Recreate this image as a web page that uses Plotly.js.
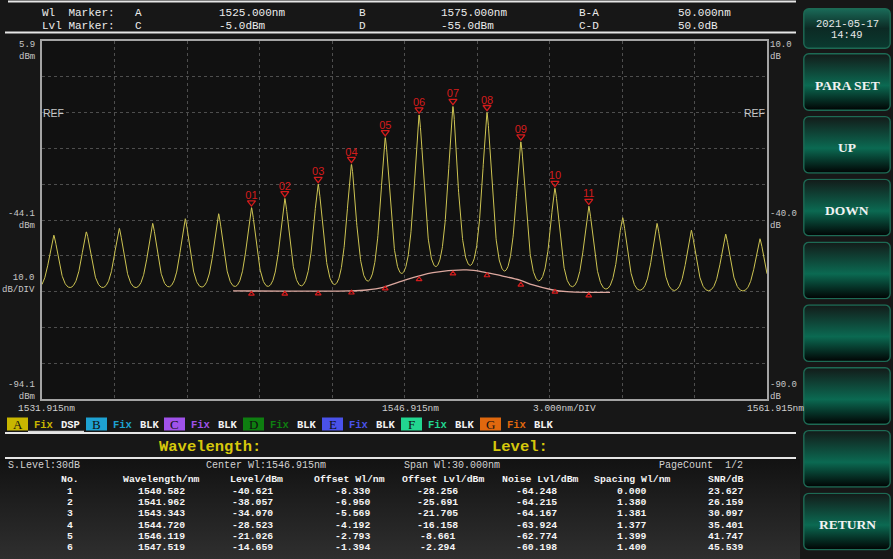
<!DOCTYPE html>
<html><head><meta charset="utf-8">
<script src="https://cdn.plot.ly/plotly-3.0.1.min.js"></script>
<style>html,body{margin:0;padding:0;background:#161616;overflow:hidden}#chart{width:893px;height:559px}</style>
</head><body><div id="chart"></div>
<script>
// ---------------- data ----------------
const xStart = 1531.915, xEnd = 1561.915;           // nm, 3 nm/div
const yTop = 5.9, yBottom = -94.1;                  // dBm, 10 dB/div
// all channel peaks of trace A
const peakWl  = [1532.40, 1533.75, 1535.11, 1536.49, 1537.84, 1539.22,
                 1540.582, 1541.962, 1543.343, 1544.720, 1546.119, 1547.519,
                 1548.92, 1550.33, 1551.73, 1553.14, 1554.54,
                 1555.94, 1557.36, 1558.78, 1560.20, 1561.62];
const peakLvl = [-48.3, -47.4, -46.4, -45.0, -43.7, -42.3,
                 -40.621, -38.057, -34.070, -28.523, -21.026, -14.659,
                 -12.3, -14.0, -22.2, -35.2, -40.2,
                 -43.4, -45.0, -46.9, -48.0, -49.3];
// trace floor level under each peak
const peakFloor = [-63.9, -63.9, -63.9, -63.9, -63.9, -63.9,
                   -63.9, -63.9, -63.9, -63.7, -62.2, -59.9,
                   -58.6, -59.1, -61.5, -63.6, -64.3,
                   -64.6, -64.6, -64.6, -64.6, -64.6];
// analysed channels 01..11
const markerLabels = ['01','02','03','04','05','06','07','08','09','10','11'];
const markerWl  = [1540.582, 1541.962, 1543.343, 1544.720, 1546.119, 1547.519, 1548.92, 1550.33, 1551.73, 1553.14, 1554.54];
const markerLvl = [-40.621, -38.057, -34.070, -28.523, -21.026, -14.659, -12.3, -14.0, -22.2, -35.2, -40.2];
const noiseLvl  = [-64.248, -64.215, -64.167, -63.924, -62.774, -60.198, -58.6, -59.1, -61.7, -63.7, -64.7];
// fitted noise curve
const noiseCurveWl  = [1539.82, 1544.66, 1545.35, 1546.03, 1546.73, 1548.09, 1549.49, 1550.25, 1550.94, 1551.69, 1552.23, 1553.06, 1553.64, 1554.47, 1555.42];
const noiseCurveLvl = [-63.9, -63.9, -63.65, -62.9, -61.3, -58.8, -58.05, -58.7, -59.7, -60.9, -62.25, -63.65, -64.1, -64.3, -64.3];
// axis labels
const leftLabels  = [['5.9','dBm'], ['-44.1','dBm'], ['10.0','dB/DIV'], ['-94.1','dBm']];
const rightLabels = [['10.0','dB'], ['-40.0','dB'], ['-90.0','dB']];
const xLabels = ['1531.915nm', '1546.915nm', '3.000nm/DIV', '1561.915nm'];
// header
const hdrRow1 = ['Wl  Marker:', 'A', '1525.000nm', 'B', '1575.000nm', 'B-A', '50.000nm'];
const hdrRow2 = ['Lvl Marker:', 'C', '-5.0dBm', 'D', '-55.0dBm', 'C-D', '50.0dB'];
// trace legend row
const trLetters = ['A','B','C','D','E','F','G'];
const trColors  = ['#c8b600','#1ea2d2','#a052ea','#0e7e10','#4a52ea','#22d690','#e0680e'];
const trState   = ['DSP','BLK','BLK','BLK','BLK','BLK','BLK'];
// table
const infoRow = ['S.Level:30dB', 'Center Wl:1546.915nm', 'Span Wl:30.000nm', 'PageCount  1/2'];
const tblHeaders = ['No.','Wavelength/nm','Level/dBm','Offset Wl/nm','Offset Lvl/dBm','Noise Lvl/dBm','Spacing Wl/nm','SNR/dB'];
const tblNo      = [1, 2, 3, 4, 5, 6];
const tblWl      = [1540.582, 1541.962, 1543.343, 1544.720, 1546.119, 1547.519];
const tblLevel   = [-40.621, -38.057, -34.070, -28.523, -21.026, -14.659];
const tblOffWl   = [-8.330, -6.950, -5.569, -4.192, -2.793, -1.394];
const tblOffLvl  = [-28.256, -25.691, -21.705, -16.158, -8.661, -2.294];
const tblNoise   = [-64.248, -64.215, -64.167, -63.924, -62.774, -60.198];
const tblSpacing = [0.000, 1.380, 1.381, 1.377, 1.399, 1.400];
const tblSnr     = [23.627, 26.159, 30.097, 35.401, 41.747, 45.539];
// side buttons
const buttonLabels = ['PARA SET','UP','DOWN','','','','','RETURN'];
const dateText = ['2021-05-17','14:49'];

// ---------------- build ----------------
const MONO = 'Liberation Mono, DejaVu Sans Mono, monospace';
const SERIF = 'Liberation Serif, DejaVu Serif, serif';
const SANS = 'Liberation Sans, Arial, sans-serif';
const PL = 42, PR = 767, PT = 41, PB = 399;
const xp = px => (px - PL) / (PR - PL);
const yp = py => (PB - py) / (PB - PT);

// spectrum line: each channel drawn as a peak over the local floor
function floorAt(x) {
  if (x <= peakWl[0]) return peakFloor[0];
  for (let i = 0; i < peakWl.length - 1; i++) {
    if (x <= peakWl[i + 1]) {
      const t = (x - peakWl[i]) / (peakWl[i + 1] - peakWl[i]);
      return peakFloor[i] + t * (peakFloor[i + 1] - peakFloor[i]);
    }
  }
  return peakFloor[peakFloor.length - 1];
}
const W = 0.29, P = 1.5;
const specX = [], specY = [];
for (let k = 0; k <= 3000; k++) {
  const x = xStart + k * (xEnd - xStart) / 3000;
  let y = floorAt(x);
  for (let i = 0; i < peakWl.length; i++) {
    const d = Math.abs(x - peakWl[i]) / W;
    y += (peakLvl[i] - peakFloor[i]) * Math.exp(-Math.pow(d, P));
  }
  specX.push(x); specY.push(y);
}

const RED = '#d41c1c';
const traces = [
  {x: specX, y: specY, type: 'scatter', mode: 'lines', line: {color: '#cdc452', width: 1}, hoverinfo: 'skip'},
  {x: noiseCurveWl, y: noiseCurveLvl, type: 'scatter', mode: 'lines', line: {color: '#dca89f', width: 1.3, shape: 'spline'}, hoverinfo: 'skip'},
  {x: markerWl, y: markerLvl.map(v => v + 1.4), type: 'scatter', mode: 'markers', cliponaxis: false,
   marker: {symbol: 'triangle-down-open', size: 7, color: RED, line: {width: 1.3, color: RED}}},
  {x: markerWl, y: markerLvl.map(v => v + 3.2), type: 'scatter', mode: 'text', text: markerLabels, cliponaxis: false,
   textposition: 'middle center', textfont: {family: 'Liberation Sans Narrow, ' + SANS, size: 11, color: RED}},
  {x: markerWl, y: noiseLvl.map(v => v - 0.5), type: 'scatter', mode: 'markers',
   marker: {symbol: 'triangle-up-open', size: 5, color: RED, line: {width: 1.2, color: RED}}}
];

const ann = [];
function T(text, x, y, o) {
  o = o || {};
  ann.push({text: text, x: xp(x), y: yp(y), xref: 'paper', yref: 'paper', showarrow: false,
    xanchor: o.xa || 'left', yanchor: 'middle', align: o.xa === 'center' ? 'center' : (o.xa || 'left'),
    font: {family: o.ff || MONO, size: o.size || 11, color: o.color || '#ececec', weight: o.weight || 'normal'}});
}
// header
const hdrX = [42, 135, 219, 359, 441, 579, 678];
hdrRow1.forEach((t, i) => T(t, hdrX[i] - 2, 13));
hdrRow2.forEach((t, i) => T(t, hdrX[i] - 2, 25.5));
// left / right axis labels (two lines each)
const leftY = [51, 220, 284, 391];
leftLabels.forEach((l, i) => T(l[0] + '<br>' + l[1], 37, leftY[i], {xa: 'right', size: 9, color: '#c8c8c8'}));
const rightY = [50.5, 220, 391];
rightLabels.forEach((l, i) => T(l[0] + '<br>' + l[1], 768, rightY[i], {size: 9, color: '#c8c8c8'}));
T('REF', 41, 112.5, {ff: SANS, size: 10.5, color: '#c8c8c8'});
T('REF', 767, 112.5, {ff: SANS, size: 10.5, color: '#c8c8c8', xa: 'right'});
// x labels
const xLabX = [46, 410, 564, 775];
xLabels.forEach((t, i) => T(t, xLabX[i], 408, {xa: 'center', size: 9.5, color: '#cfcfcf'}));
// legend row
const boxX = [7, 86, 164, 243, 322, 401, 480];
const shapes = [];
boxX.forEach((bx, i) => {
  shapes.push({type: 'rect', xref: 'paper', yref: 'paper', x0: xp(bx), x1: xp(bx + 21), y0: yp(430.5), y1: yp(417.5), fillcolor: trColors[i], line: {width: 0}});
  T(trLetters[i], bx + 10.5, 424.5, {xa: 'center', ff: SERIF, size: 13, color: '#101010'});
  T('Fix', bx + 25, 425, {size: 10.5, color: trColors[i], weight: 'bold'});
  T(trState[i], bx + 52, 425, {size: 10.5, color: '#f2f2f2', weight: 'bold'});
});
shapes.push({type: 'line', xref: 'paper', yref: 'paper', x0: xp(28), x1: xp(84), y0: yp(431.5), y1: yp(431.5), line: {color: '#d8d8d8', width: 1.5}});
// separator lines
[[1.5, 8], [32.5, 5], [433, 5], [458, 5]].forEach(l => shapes.push({type: 'line', xref: 'paper', yref: 'paper', x0: xp(l[1]), x1: xp(796), y0: yp(l[0]), y1: yp(l[0]), line: {color: '#e6e6e6', width: 2}}));
// titles
T('Wavelength:', 210, 446.5, {xa: 'center', size: 15.5, color: '#d6c80c', weight: 'bold'});
T('Level:', 520, 446.5, {xa: 'center', size: 15.5, color: '#d6c80c', weight: 'bold'});
// info row
const infoX = [6, 204, 402, 657];
infoRow.forEach((t, i) => T(t, infoX[i], 466, {size: 10, color: '#d2d2d2'}));
// table
const hdrCx = [70, 161, 256, 349, 443, 540, 632, 725];
const valCx = [70, 161, 252, 352, 437, 536, 632, 725];
tblHeaders.forEach((t, i) => T(t, hdrCx[i], 479.8, {xa: 'center', size: 9.8, color: '#f4f4f4', weight: 'bold'}));
const rowY = [491.3, 502.6, 513.9, 525.2, 536.5, 547.8];
const cols = [tblNo.map(String), tblWl.map(v => v.toFixed(3)), tblLevel.map(v => v.toFixed(3)), tblOffWl.map(v => v.toFixed(3)),
  tblOffLvl.map(v => v.toFixed(3)), tblNoise.map(v => v.toFixed(3)), tblSpacing.map(v => v.toFixed(3)), tblSnr.map(v => v.toFixed(3))];
cols.forEach((c, j) => c.forEach((t, r) => T(t, valCx[j], rowY[r], {xa: 'center', size: 9.8, color: '#f4f4f4', weight: 'bold'})));

// side buttons (SVG gradient images)
const btnSvg = "<svg xmlns='http://www.w3.org/2000/svg' width='88' height='58' viewBox='0 0 88 58' preserveAspectRatio='none'>" +
  "<defs><linearGradient id='g' x1='0' y1='0' x2='0' y2='1'><stop offset='0' stop-color='#131b19'/><stop offset='0.56' stop-color='#0b6a52'/><stop offset='1' stop-color='#010303'/></linearGradient></defs>" +
  "<rect x='0.8' y='0.8' width='86.4' height='56.4' rx='5' ry='5' fill='url(#g)' stroke='#1d6a54' stroke-width='1.4'/></svg>";
const dateSvg = "<svg xmlns='http://www.w3.org/2000/svg' width='88' height='41' viewBox='0 0 88 41' preserveAspectRatio='none'>" +
  "<defs><linearGradient id='g' x1='0' y1='0' x2='0' y2='1'><stop offset='0' stop-color='#1a6a58'/><stop offset='0.5' stop-color='#0c2a24'/><stop offset='1' stop-color='#0a3a30'/></linearGradient></defs>" +
  "<rect x='0.8' y='0.8' width='86.4' height='39.4' rx='5' ry='5' fill='url(#g)' stroke='#1d6a54' stroke-width='1.4'/></svg>";
const bgSvg = "<svg xmlns='http://www.w3.org/2000/svg' width='10' height='100' viewBox='0 0 10 100' preserveAspectRatio='none'>" +
  "<defs><linearGradient id='g' x1='0' y1='0' x2='0' y2='1'><stop offset='0' stop-color='#121212'/><stop offset='1' stop-color='#2f2f2f'/></linearGradient></defs>" +
  "<rect width='10' height='100' fill='url(#g)'/></svg>";
const uri = s => 'data:image/svg+xml;charset=utf-8,' + encodeURIComponent(s);
const images = [];
images.push({source: uri(bgSvg), xref: 'paper', yref: 'paper', x: xp(0), y: yp(459), sizex: 800 / 725, sizey: 100 / 358, xanchor: 'left', yanchor: 'top', sizing: 'stretch', layer: 'below'});
images.push({source: uri(dateSvg), xref: 'paper', yref: 'paper', x: xp(803), y: yp(8), sizex: 88 / 725, sizey: 41 / 358, xanchor: 'left', yanchor: 'top', sizing: 'stretch', layer: 'above'});
T(dateText[0], 847, 23.5, {xa: 'center', size: 10.5, color: '#e8e8e8'});
T(dateText[1], 847, 35, {xa: 'center', size: 10.5, color: '#e8e8e8'});
buttonLabels.forEach((t, i) => {
  const top = 53 + i * 62.8;
  images.push({source: uri(btnSvg), xref: 'paper', yref: 'paper', x: xp(803), y: yp(top), sizex: 88 / 725, sizey: 58 / 358, xanchor: 'left', yanchor: 'top', sizing: 'stretch', layer: 'above'});
  if (t) T(t, 847, top + 32, {xa: 'center', ff: SERIF, size: 13.5, color: '#f2f2f2', weight: 'bold'});
});

const axisCommon = {showgrid: true, gridcolor: '#4e4e4e', griddash: 'dot', gridwidth: 1, zeroline: false,
  showticklabels: false, ticks: '', showline: true, mirror: true, linecolor: '#a4a4a4', linewidth: 2, fixedrange: true};
const layout = {
  width: 893, height: 559, margin: {l: PL, r: 893 - PR, t: PT, b: 559 - PB, pad: 0},
  paper_bgcolor: '#171717', plot_bgcolor: '#111111', showlegend: false,
  xaxis: Object.assign({range: [xStart, xEnd], tick0: xStart, dtick: 3}, axisCommon),
  yaxis: Object.assign({range: [yBottom, yTop], tick0: yTop, dtick: 10}, axisCommon),
  annotations: ann, shapes: shapes, images: images
};
Plotly.newPlot('chart', traces, layout, {staticPlot: true, displayModeBar: false});
</script></body></html>
